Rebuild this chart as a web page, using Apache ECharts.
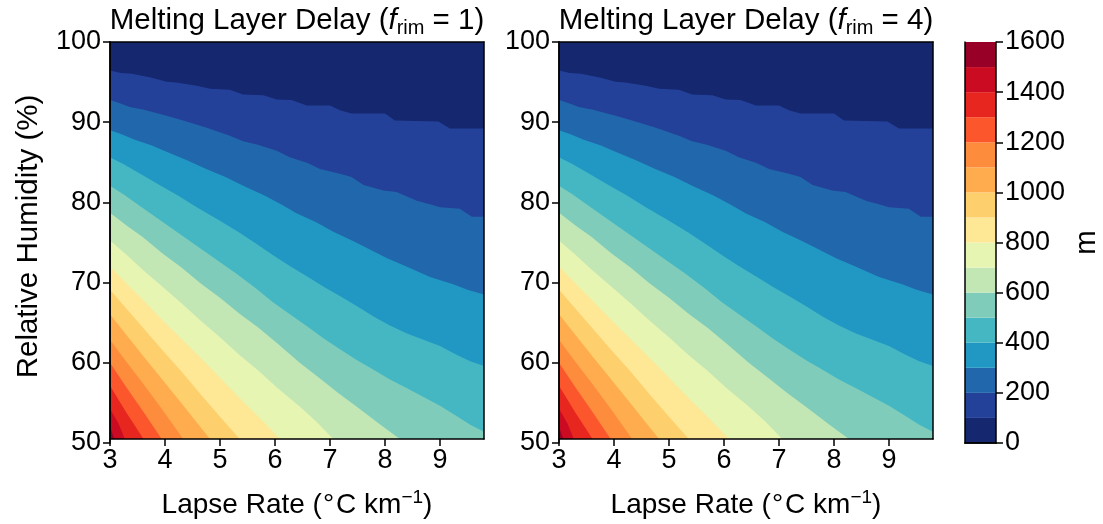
<!DOCTYPE html>
<html>
<head>
<meta charset="utf-8">
<script src="https://cdn.jsdelivr.net/npm/echarts@6/dist/echarts.min.js"></script>
<style>
  html, body { margin: 0; padding: 0; background: #fff; }
  #chart { width: 1103px; height: 524px; }
</style>
</head>
<body>
<div id="chart"></div>
<script>
// Axis ticks
const lapseTicks = [3, 4, 5, 6, 7, 8, 9];
const humidityTicks = [50, 60, 70, 80, 90, 100];
const colorbarTicks = [0, 200, 400, 600, 800, 1000, 1200, 1400, 1600];

// Contour levels (m) and the fill colour of each band between them
const levels = [0, 100, 200, 300, 400, 500, 600, 700, 800, 900, 1000, 1100, 1200, 1300, 1400, 1500, 1600];
const bandColors = [
  '#15276f', '#24419a', '#2167ab', '#2197c4', '#45b7c3', '#7fccbb', '#c3e6b5', '#e7f5b3',
  '#fee795', '#fed06d', '#feac4e', '#fd8c3c', '#fc572c', '#e7271f', '#cb0b22', '#990027'
];

// Contour lines: [lapse rate (°C/km), relative humidity (%)]
const contour100 = [[3,96.4],[3.2,96.1],[3.4,96.0],[3.76,95.5],[4.03,95.0],[4.2,94.9],[4.58,94.5],[4.82,94.1],[5.18,94.0],[5.42,93.4],[5.79,93.3],[6.03,92.75],[6.3,92.7],[6.58,92.0],[7.0,92.0],[7.18,91.4],[7.39,91.0],[8.0,91.0],[8.18,90.1],[8.97,90.0],[9.18,89.1],[9.8,89.1]];
const contour200 = [[3,92.7],[3.18,92.3],[3.36,91.8],[3.6,91.5],[4.03,90.7],[4.39,90.0],[4.76,89.2],[5.18,88.2],[5.42,87.5],[5.67,87.1],[6.03,86.3],[6.27,85.5],[6.58,84.8],[6.82,84.0],[7.18,83.4],[7.39,83.0],[7.61,82.0],[7.97,81.3],[8.21,81.1],[8.58,80.0],[8.8,79.6],[9.0,79.2],[9.36,79.0],[9.58,78.0],[9.8,78.0]];
const contour300 = [[3,88.9],[3.2,88.4],[3.45,87.7],[3.75,87.0],[4.05,86.1],[4.4,85.1],[4.75,84.0],[5.1,83.0],[5.45,81.8],[5.8,80.7],[6.1,79.6],[6.4,78.4],[6.75,77.3],[7.06,76.1],[7.4,75.0],[7.6,74.3],[8.03,72.8],[8.4,71.7],[8.82,70.4],[9.24,69.5],[9.5,68.8],[9.8,68.2]];
const contour400 = [[3,85.5],[3.25,84.6],[3.55,83.4],[3.9,82.0],[4.25,80.6],[4.6,79.1],[5.0,77.5],[5.35,76.0],[5.7,74.4],[6.0,73.0],[6.27,71.8],[6.6,70.4],[6.9,69.1],[7.18,68.0],[7.5,66.7],[7.8,65.4],[8.09,64.3],[8.4,63.3],[8.7,62.5],[9.0,61.7],[9.3,60.6],[9.55,59.8],[9.8,59.2]];
const contour500 = [[3,81.9],[3.25,80.8],[3.55,79.3],[3.9,77.6],[4.25,75.9],[4.6,74.2],[4.95,72.5],[5.3,70.8],[5.65,69.0],[5.95,67.3],[6.27,65.7],[6.6,64.1],[6.9,62.6],[7.18,61.3],[7.5,59.9],[7.8,58.7],[8.09,57.5],[8.4,56.4],[8.7,55.3],[9.0,54.2],[9.3,52.9],[9.55,51.8],[9.8,50.9]];
const contour600 = [[3,78.5],[3.3,76.9],[3.6,75.4],[3.95,73.4],[4.3,71.6],[4.65,69.6],[5.0,67.8],[5.35,65.8],[5.7,64.0],[6.05,62.0],[6.45,59.6],[6.8,57.7],[7.15,55.8],[7.5,54.0],[7.9,51.9],[8.27,50]];
const contour700 = [[3,75.0],[3.3,73.2],[3.6,71.3],[3.95,69.2],[4.3,67.1],[4.65,64.9],[5.0,62.8],[5.35,60.6],[5.7,58.6],[6.05,56.4],[6.45,54.1],[6.75,52.2],[7.06,50]];
const contour800 = [[3,71.7],[3.3,69.6],[3.6,67.5],[3.95,65.0],[4.3,62.6],[4.65,60.2],[5.0,57.7],[5.35,55.2],[5.7,52.8],[6.09,50]];
const contour900 = [[3,68.8],[3.3,66.4],[3.6,64.0],[3.95,61.2],[4.3,58.5],[4.65,55.6],[5.0,52.8],[5.36,50]];
const contour1000 = [[3,65.7],[3.3,63.1],[3.6,60.5],[3.95,57.5],[4.3,54.5],[4.6,51.9],[4.82,50]];
const contour1100 = [[3,62.5],[3.3,59.7],[3.6,57.0],[3.95,53.7],[4.33,50]];
const contour1200 = [[3,59.6],[3.3,56.5],[3.6,53.5],[3.94,50]];
const contour1300 = [[3,56.7],[3.3,53.3],[3.61,50]];
const contour1400 = [[3,53.8],[3.15,52.0],[3.27,50]];
const contour1500 = [[3,51.5],[3.08,50]];

const contours = [contour100, contour200, contour300, contour400, contour500, contour600, contour700,
  contour800, contour900, contour1000, contour1100, contour1200, contour1300, contour1400, contour1500];

// Riming factors of the two panels
const rimFactors = [1, 4];

const FONT = "'Liberation Sans', Arial, sans-serif";
const FS = 27;      // tick labels
const FL = 29.5;    // titles and axis names
const INK = '#000';

const panelLefts = [110, 559];
const plotTop = 42, plotHeight = 401, plotWidth = 374;

const grids = [];
const xAxes = [];
const yAxes = [];
const series = [];
const graphics = [];

const frameLine = { show: true, lineStyle: { color: INK, width: 1.5 } };
const tickStyle = { show: true, inside: false, length: 7, lineStyle: { color: INK, width: 1.5 } };
const labelStyle = { color: INK, fontFamily: FONT, fontSize: FS, lineHeight: 20 };
const hidden = { show: false };

rimFactors.forEach((rim, p) => {
  const rect = { left: panelLefts[p], top: plotTop, width: plotWidth, height: plotHeight };

  // Plot area: contour fills, x axis with ticks and labels, frame
  const g = grids.length;
  grids.push(Object.assign({ show: true, backgroundColor: bandColors[0], borderWidth: 0 }, rect));
  const xi = xAxes.length, yi = yAxes.length;
  xAxes.push({
    type: 'value', gridIndex: g, min: 3, max: 9.8, interval: 1, z: 10,
    axisLine: frameLine, splitLine: hidden,
    axisTick: Object.assign({ customValues: lapseTicks }, tickStyle),
    axisLabel: Object.assign({ customValues: lapseTicks, margin: 12 }, labelStyle),
    name: '{a|Lapse Rate (}{deg|°}{a|C km}{sup|−1}{a|)}', nameLocation: 'middle', nameGap: 49,
    nameTextStyle: { rich: {
      a: { fontFamily: FONT, fontSize: 28, color: INK, lineHeight: 34, verticalAlign: 'middle' },
      deg: { fontFamily: FONT, fontSize: 28, color: INK, lineHeight: 34, verticalAlign: 'middle', padding: [0, 2, 0, 1] },
      sup: { fontFamily: FONT, fontSize: 19, color: INK, lineHeight: 12, verticalAlign: 'top' }
    } }
  });
  xAxes.push({ type: 'value', gridIndex: g, position: 'top', min: 3, max: 9.8, z: 10,
    axisLine: frameLine, axisTick: hidden, axisLabel: hidden, splitLine: hidden });
  yAxes.push({ type: 'value', gridIndex: g, min: 50, max: 100, z: 10,
    axisLine: frameLine, axisTick: hidden, axisLabel: hidden, splitLine: hidden });
  yAxes.push({ type: 'value', gridIndex: g, position: 'right', min: 50, max: 100, z: 10,
    axisLine: frameLine, axisTick: hidden, axisLabel: hidden, splitLine: hidden });

  contours.forEach((c, i) => {
    series.push({
      type: 'line', xAxisIndex: xi, yAxisIndex: yi, data: c,
      symbol: 'none', silent: true, animation: false,
      lineStyle: { width: 0 },
      areaStyle: { color: bandColors[i + 1], opacity: 1, origin: 'start' }
    });
  });

  // Same rectangle again, carrying the humidity axis ticks, labels and name
  const h = grids.length;
  grids.push(Object.assign({}, rect));
  xAxes.push({ type: 'value', gridIndex: h, min: 3, max: 9.8, show: false });
  yAxes.push({
    type: 'value', gridIndex: h, min: 50, max: 100, interval: 10, z: 10,
    axisLine: frameLine, splitLine: hidden,
    axisTick: Object.assign({ customValues: humidityTicks }, tickStyle),
    axisLabel: Object.assign({ customValues: humidityTicks, margin: 9 }, labelStyle),
    name: p === 0 ? 'Relative Humidity (%)' : '', nameLocation: 'middle', nameGap: 66,
    nameTextStyle: { color: INK, fontFamily: FONT, fontSize: FL, padding: [0, 0, 0, 12] }
  });

  graphics.push({
    type: 'text', x: panelLefts[p] + plotWidth / 2, y: 21,
    style: {
      text: '{a|Melting Layer Delay (}{i|f}{s|rim}{a| = ' + rim + ')}',
      align: 'center', verticalAlign: 'middle',
      rich: {
        a: { fontFamily: FONT, fontSize: FL, fill: INK, lineHeight: 34, verticalAlign: 'middle' },
        i: { fontFamily: FONT, fontSize: FL, fontStyle: 'italic', fill: INK, lineHeight: 34, verticalAlign: 'middle' },
        s: { fontFamily: FONT, fontSize: 20, fill: INK, lineHeight: 12, verticalAlign: 'bottom' }
      }
    }
  });
});

// Colour bar
const cbGrid = grids.length;
grids.push({ left: 965, top: plotTop, width: 32, height: plotHeight });
const cbx = xAxes.length, cby = yAxes.length;
xAxes.push({ type: 'category', gridIndex: cbGrid, data: ['m'], z: 10,
  axisLine: frameLine, axisTick: hidden, axisLabel: hidden });
xAxes.push({ type: 'category', gridIndex: cbGrid, position: 'top', data: ['m'], z: 10,
  axisLine: frameLine, axisTick: hidden, axisLabel: hidden });
yAxes.push({
  type: 'value', gridIndex: cbGrid, position: 'right', min: 0, max: 1600, interval: 200, z: 10,
  axisLine: frameLine, splitLine: hidden,
  axisTick: Object.assign({ customValues: colorbarTicks }, tickStyle),
  axisLabel: Object.assign({ customValues: colorbarTicks, margin: 9, formatter: v => String(v) }, labelStyle),
  name: 'm', nameLocation: 'middle', nameGap: 76, nameRotate: 90,
  nameTextStyle: { color: INK, fontFamily: FONT, fontSize: FL }
});
yAxes.push({ type: 'value', gridIndex: cbGrid, position: 'left', min: 0, max: 1600, z: 10,
  axisLine: frameLine, axisTick: hidden, axisLabel: hidden, splitLine: hidden });

bandColors.forEach((c, i) => {
  series.push({
    type: 'bar', xAxisIndex: cbx, yAxisIndex: cby, stack: 'colorbar',
    data: [levels[i + 1] - levels[i]], barWidth: '100%', barCategoryGap: '0%',
    itemStyle: { color: c }, silent: true, animation: false
  });
});

const chart = echarts.init(document.getElementById('chart'), null, { renderer: 'canvas' });
chart.setOption({
  backgroundColor: '#fff',
  animation: false,
  grid: grids,
  xAxis: xAxes,
  yAxis: yAxes,
  series: series,
  graphic: graphics
});
</script>
</body>
</html>
